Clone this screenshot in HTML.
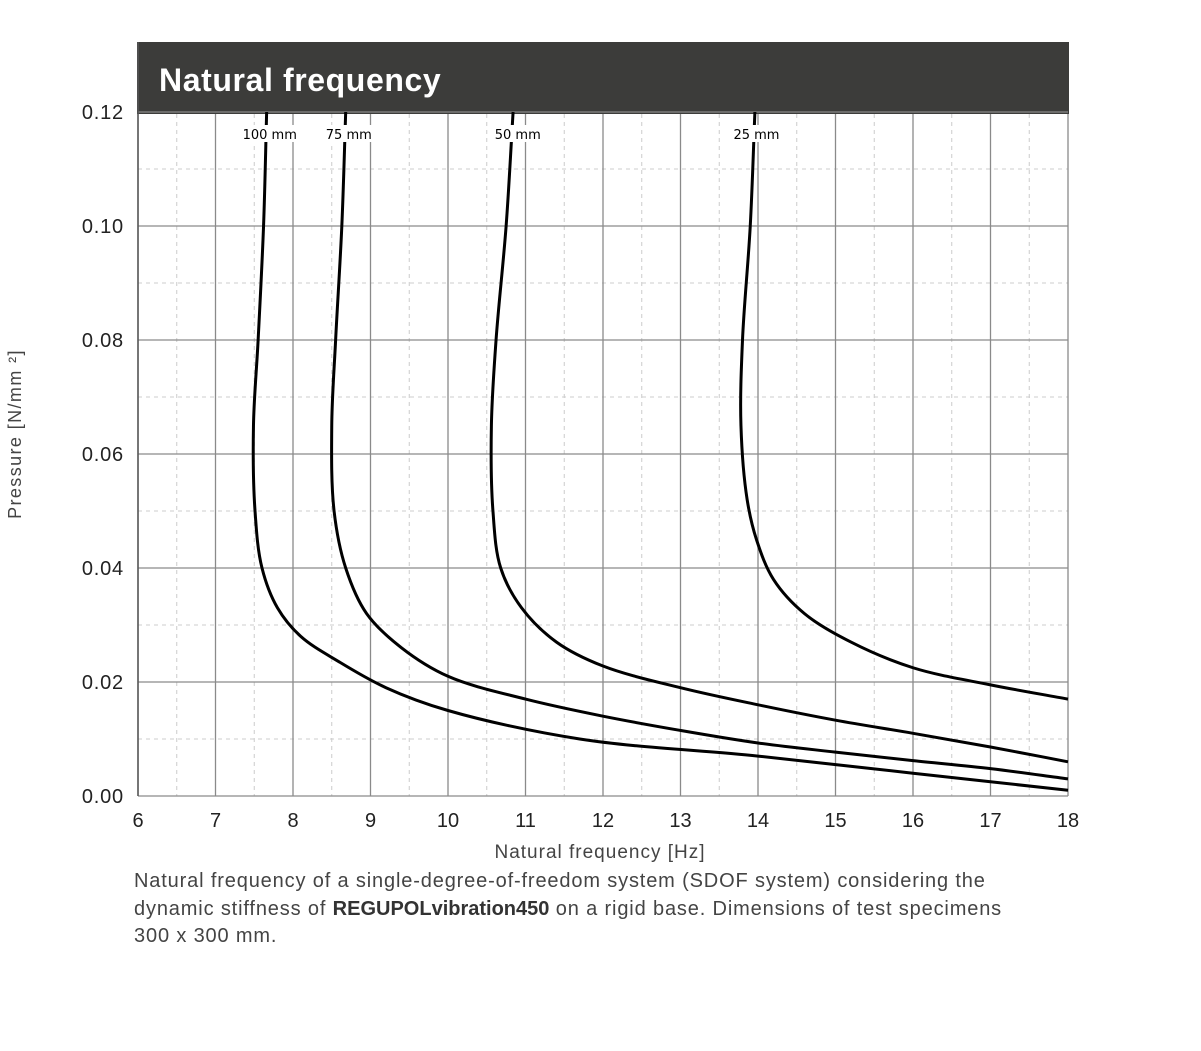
<!DOCTYPE html>
<html><head><meta charset="utf-8"><style>
body{margin:0;background:#fff;width:1201px;height:1051px;overflow:hidden;font-family:"Liberation Sans",sans-serif;}
.cap{position:absolute;left:134px;top:868px;font-size:20px;letter-spacing:0.85px;line-height:27.5px;color:#444;white-space:nowrap}
</style></head><body>
<svg id="chart" width="1201" height="1051" style="position:absolute;left:0;top:0">
<rect x="137" y="42" width="932" height="72" fill="#3c3c3a"/>
<text x="159" y="91" fill="#fff" font-size="32" font-weight="bold" letter-spacing="0.6">Natural frequency</text>
<g id="grid"></g><g id="curves"></g><g id="ticks"></g>
<text x="600" y="858" text-anchor="middle" font-size="19" letter-spacing="1" fill="#444">Natural frequency [Hz]</text>
<text transform="translate(21,434) rotate(-90)" text-anchor="middle" font-size="18" letter-spacing="1.4" fill="#444">Pressure [N/mm ²]</text>
</svg>
<div class="cap">Natural frequency of a single-degree-of-freedom system (SDOF system) considering the<br>dynamic stiffness of <b style="color:#333;letter-spacing:0">REGUPOLvibration450</b> on a rigid base. Dimensions of test specimens<br>300 x 300 mm.</div>
<script>
const xTicks=[6,7,8,9,10,11,12,13,14,15,16,17,18];
const yTicks=[0,0.02,0.04,0.06,0.08,0.10,0.12];
const seriesNames=["100 mm","75 mm","50 mm","25 mm"];
const s100f=[7.66,7.62,7.55,7.49,7.51,7.6,7.8,8.1,8.6,9.2,10.0,11.7,14.0,16.0,18.0];
const s100p=[0.12,0.10,0.08,0.065,0.05,0.04,0.033,0.028,0.0235,0.019,0.015,0.010,0.007,0.004,0.001];
const s75f=[8.68,8.63,8.55,8.5,8.53,8.68,8.95,9.4,10.0,11.0,12.0,13.0,14.0,15.0,16.0,17.0,18.0];
const s75p=[0.12,0.10,0.08,0.065,0.05,0.04,0.032,0.026,0.021,0.017,0.014,0.0115,0.0093,0.0077,0.0062,0.0048,0.003];
const s50f=[10.84,10.75,10.62,10.56,10.58,10.68,10.95,11.4,12.0,13.0,14.0,15.0,16.0,17.0,18.0];
const s50p=[0.12,0.10,0.08,0.065,0.05,0.04,0.033,0.027,0.0228,0.019,0.016,0.0133,0.011,0.0086,0.006];
const s25f=[13.96,13.9,13.8,13.78,13.86,13.98,14.2,14.6,15.2,16.0,17.0,18.0];
const s25p=[0.12,0.10,0.08,0.065,0.052,0.045,0.038,0.032,0.027,0.0225,0.0195,0.017];
const labelF=[7.7,8.72,10.9,13.98];
const NS="http://www.w3.org/2000/svg";
const X=v=>138+(v-6)*77.5, Y=v=>796-v/0.12*684;
function mk(t,a,p){const e=document.createElementNS(NS,t);for(const k in a)e.setAttribute(k,a[k]);p.appendChild(e);return e;}
const g=document.getElementById('grid');
for(let v=6.5;v<18;v+=1){const l=mk('line',{x1:X(v),x2:X(v),y1:114,y2:796,stroke:'#ccc','stroke-dasharray':'4,4'},g);

}
for(let v=0.01;v<0.12;v+=0.02){const l=mk('line',{x1:138,x2:1068,y1:Y(v),y2:Y(v),stroke:'#ccc','stroke-dasharray':'4,4'},g);

}
xTicks.forEach(v=>{const l=mk('line',{x1:X(v),x2:X(v),y1:114,y2:796,stroke:'#8a8a8a','stroke-width':1.3},g);


const t=mk('text',{x:X(v),y:827,'text-anchor':'middle','font-size':20,fill:'#222'},document.getElementById('ticks'));t.textContent=v;

});
yTicks.forEach(v=>{const l=mk('line',{x1:138,x2:1068,y1:Y(v),y2:Y(v),stroke:'#8a8a8a','stroke-width':1.3},g);


const t=mk('text',{x:124,y:Y(v)+7,'text-anchor':'end','font-size':20,'letter-spacing':0.8,fill:'#222'},document.getElementById('ticks'));t.textContent=v.toFixed(2);

});
function path(fs,ps){const P=fs.map((f,i)=>[X(f),Y(ps[i])]);let d='M'+P[0];
const dist=(a,b)=>Math.max(1e-3,Math.pow(Math.hypot(a[0]-b[0],a[1]-b[1]),0.5));
for(let i=0;i<P.length-1;i++){
const p1=P[i],p2=P[i+1];
const p0=P[i-1]||[2*p1[0]-p2[0],2*p1[1]-p2[1]];
const p3=P[i+2]||[2*p2[0]-p1[0],2*p2[1]-p1[1]];
const d1=dist(p0,p1),d2=dist(p1,p2),d3=dist(p2,p3);
const b1=[0,1].map(k=>(d1*d1*p2[k]-d2*d2*p0[k]+(2*d1*d1+3*d1*d2+d2*d2)*p1[k])/(3*d1*(d1+d2)));
const b2=[0,1].map(k=>(d3*d3*p1[k]-d2*d2*p3[k]+(2*d3*d3+3*d3*d2+d2*d2)*p2[k])/(3*d3*(d3+d2)));
d+=' C'+b1+' '+b2+' '+p2;}return d;}
const c=document.getElementById('curves');
[[s100f,s100p],[s75f,s75p],[s50f,s50p],[s25f,s25p]].forEach((s,i)=>{
const p=mk('path',{d:path(s[0],s[1]),fill:'none',stroke:'#000','stroke-width':3},c);


const w=seriesNames[i].length*9.6;
const r=mk('rect',{x:X(labelF[i])-w/2,y:Y(0.12)+13,width:w,height:17,fill:'#fff'},c);


const t=mk('text',{x:X(labelF[i]),y:Y(0.12)+27,'text-anchor':'middle','font-size':13,'font-family':'DejaVu Sans, sans-serif',fill:'#000'},c);t.textContent=seriesNames[i];

});
const ax=mk('line',{x1:138,x2:138,y1:42,y2:796,stroke:'#555','stroke-width':1.5},g);


</script>
</body></html>
